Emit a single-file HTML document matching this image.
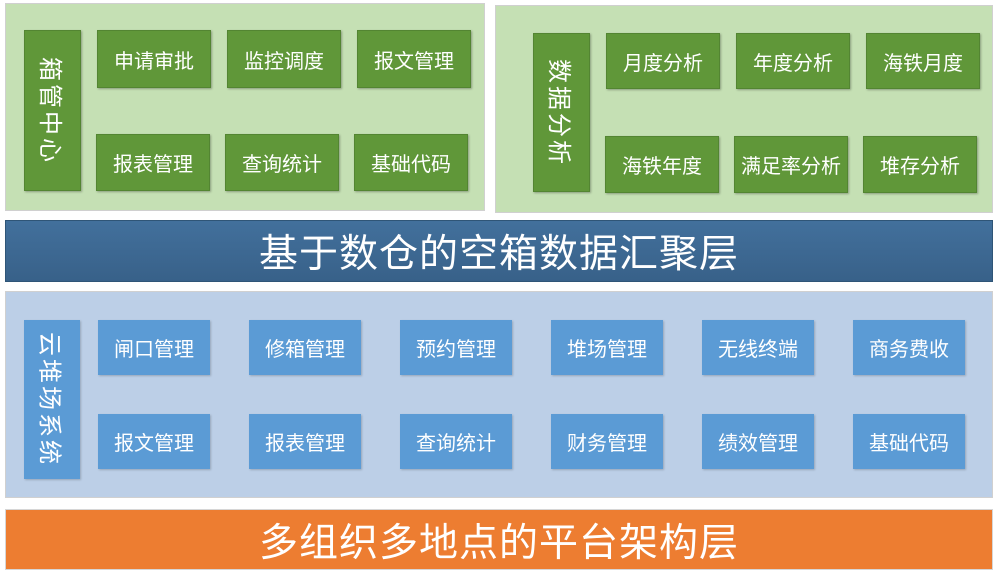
<!DOCTYPE html>
<html><head><meta charset="utf-8"><style>
body{margin:0;width:999px;height:579px;background:#fff;position:relative;overflow:hidden;font-family:"Liberation Sans","Noto Sans CJK SC",sans-serif}
div{position:absolute;box-sizing:border-box}
.p{border:1px solid #d0d0d0}
.g{background:#609739;color:#fff;font-size:20px;display:flex;align-items:center;justify-content:center;box-shadow:1px 1px 2px rgba(0,0,0,.3);border:1px solid #538532}
.b{background:#5b9bd5;color:#fff;font-size:20px;display:flex;align-items:center;justify-content:center;box-shadow:1px 1px 2px rgba(0,0,0,.2)}
.v{writing-mode:vertical-rl;text-orientation:sideways;font-size:24px;letter-spacing:3px}
.band{color:#fff;font-size:39px;display:flex;align-items:center;justify-content:center;letter-spacing:1px}
</style></head><body>
<div class="p" style="left:5px;top:3px;width:480px;height:208px;background:#c5e0b4"></div>
<div class="p" style="left:495px;top:5px;width:498px;height:208px;background:#c5e0b4"></div>
<div class="g v" style="left:24px;top:30px;width:57px;height:161px">箱管中心</div>
<div class="g" style="left:97px;top:30px;width:114px;height:58px">申请审批</div>
<div class="g" style="left:227px;top:30px;width:114px;height:58px">监控调度</div>
<div class="g" style="left:357px;top:30px;width:114px;height:58px">报文管理</div>
<div class="g" style="left:96px;top:134px;width:114px;height:57px">报表管理</div>
<div class="g" style="left:225px;top:134px;width:114px;height:57px">查询统计</div>
<div class="g" style="left:354px;top:134px;width:114px;height:57px">基础代码</div>
<div class="g v" style="left:533px;top:33px;width:57px;height:159px">数据分析</div>
<div class="g" style="left:606px;top:33px;width:114px;height:56px">月度分析</div>
<div class="g" style="left:736px;top:33px;width:114px;height:56px">年度分析</div>
<div class="g" style="left:866px;top:33px;width:114px;height:56px">海铁月度</div>
<div class="g" style="left:605px;top:136px;width:114px;height:57px">海铁年度</div>
<div class="g" style="left:734px;top:136px;width:114px;height:57px">满足率分析</div>
<div class="g" style="left:863px;top:136px;width:114px;height:57px">堆存分析</div>
<div class="band" style="left:5px;top:220px;width:988px;height:62px;background:linear-gradient(#42709c,#386189);border:1px solid #2f5577">基于数仓的空箱数据汇聚层</div>
<div class="p" style="left:5px;top:291px;width:988px;height:207px;background:#bccfe7"></div>
<div class="b v" style="left:24px;top:320px;width:56px;height:159px">云堆场系统</div>
<div class="b" style="left:98px;top:320px;width:112px;height:55px">闸口管理</div>
<div class="b" style="left:249px;top:320px;width:112px;height:55px">修箱管理</div>
<div class="b" style="left:400px;top:320px;width:112px;height:55px">预约管理</div>
<div class="b" style="left:551px;top:320px;width:112px;height:55px">堆场管理</div>
<div class="b" style="left:702px;top:320px;width:112px;height:55px">无线终端</div>
<div class="b" style="left:853px;top:320px;width:112px;height:55px">商务费收</div>
<div class="b" style="left:98px;top:414px;width:112px;height:55px">报文管理</div>
<div class="b" style="left:249px;top:414px;width:112px;height:55px">报表管理</div>
<div class="b" style="left:400px;top:414px;width:112px;height:55px">查询统计</div>
<div class="b" style="left:551px;top:414px;width:112px;height:55px">财务管理</div>
<div class="b" style="left:702px;top:414px;width:112px;height:55px">绩效管理</div>
<div class="b" style="left:853px;top:414px;width:112px;height:55px">基础代码</div>
<div class="band" style="left:5px;top:509px;width:988px;height:61px;background:#ed7d31;border:1px solid #d6d6d6">多组织多地点的平台架构层</div>
</body></html>
